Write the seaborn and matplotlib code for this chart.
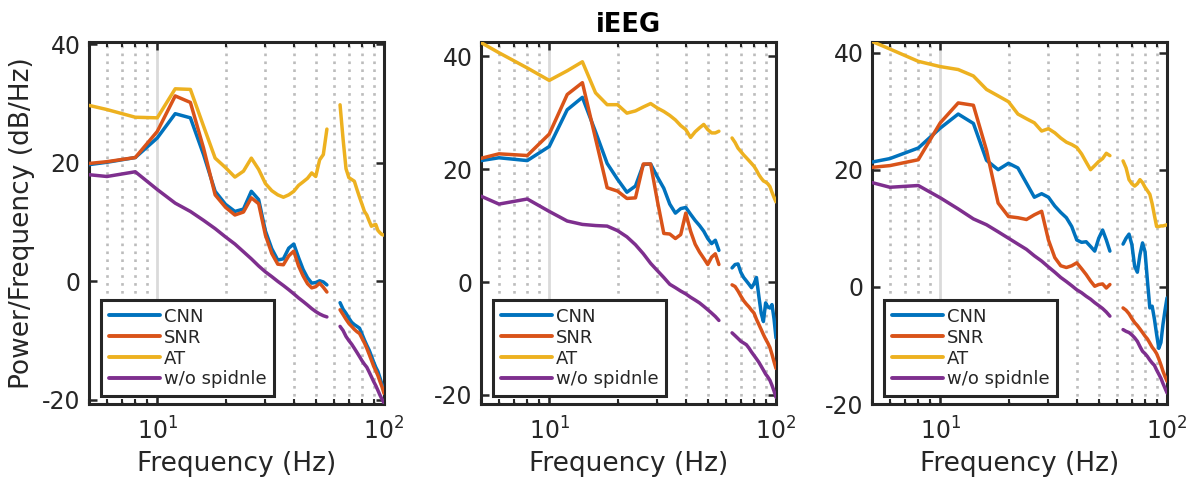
import numpy as np
import pandas as pd
import matplotlib
matplotlib.use("Agg")
import matplotlib.pyplot as plt
from matplotlib.ticker import LogFormatterMathtext, NullFormatter, FixedLocator
import seaborn as sns

# Frequency bins (Hz); the 58-62 Hz line-noise band is left out
FREQ_LO = [5, 6, 8, 10, 12, 14, 16, 18, 20, 22, 24, 26, 28, 30, 32, 34, 36, 38,
           40, 42, 44, 46, 48, 50, 52, 54, 56]
FREQ_HI = [64, 66, 68, 70, 72, 74, 76, 78, 80, 82, 84, 86, 88, 90, 92, 94, 96,
           98, 100]

METHODS = ["CNN", "SNR", "AT", "w/o spidnle"]
COLORS = ["#0072BD", "#D95319", "#EDB120", "#7E2F8E"]

# ---- Panel 1 (dB/Hz) ----
P1_CNN_LO = [19.7, 20.1, 20.9, 24.2, 28.3, 27.6, 21.4, 15.2, 13.0, 11.8, 12.2, 15.2, 13.8, 8.5,
             5.5, 3.6, 3.8, 5.6, 6.3, 4.0, 2.0, 0.6, -0.3, -0.2, 0.1, -0.1, -0.6]
P1_CNN_HI = [-3.6, -4.7, -5.4, -6.2, -6.9, -7.3, -7.6, -7.9, -8.9, -9.9, -10.8, -11.6, -12.6,
             -13.6, -14.5, -15.2, -16.3, -17.4, -18.3]
P1_SNR_LO = [19.9, 20.2, 20.9, 25.3, 31.3, 30.2, 22.5, 14.6, 12.5, 11.2, 11.7, 14.1, 13.1, 7.8,
             4.7, 2.9, 2.8, 4.3, 5.1, 2.6, 0.9, -0.4, -1.1, -0.9, -0.3, -1.0, -1.8]
P1_SNR_HI = [-4.8, -5.6, -6.4, -7.1, -7.6, -8.1, -8.5, -8.8, -9.6, -10.4, -11.3, -12.3, -13.3,
             -14.3, -15.1, -15.9, -16.9, -17.8, -18.9]
P1_AT_LO = [29.7, 29.0, 27.7, 27.6, 32.5, 32.4, 26.2, 20.8, 19.2, 17.6, 18.6, 20.8, 18.9, 16.5,
            15.3, 14.6, 14.2, 14.6, 15.2, 16.2, 16.8, 17.4, 18.3, 17.7, 20.5, 21.4, 25.7]
P1_AT_HI = [29.8, 24.0, 19.0, 17.5, 17.2, 16.9, 15.5, 14.2, 13.0, 11.8, 11.2, 10.2, 9.3, 9.5,
            9.6, 8.6, 8.2, 7.9, 7.8]
P1_WO_LO = [18.0, 17.7, 18.5, 15.5, 13.2, 11.8, 10.3, 8.9, 7.5, 6.3, 5.0, 3.8, 2.6, 1.6, 0.8,
            0.0, -0.7, -1.4, -2.1, -2.8, -3.4, -4.0, -4.6, -5.1, -5.5, -5.8, -6.0]
P1_WO_HI = [-7.6, -8.3, -9.3, -10.0, -10.6, -11.3, -12.0, -12.7, -13.4, -14.0, -14.5, -15.3,
            -16.1, -16.9, -17.6, -18.4, -19.2, -19.9, -20.5]

# ---- Panel 2 ----
P2_CNN_LO = [21.5, 22.0, 21.5, 24.0, 30.5, 32.7, 26.6, 21.0, 18.2, 15.9, 17.0, 20.8, 20.9, 18.6,
             16.6, 13.8, 12.2, 13.0, 13.2, 12.0, 10.9, 10.0, 9.0, 7.7, 6.8, 7.4, 5.6]
P2_CNN_HI = [2.5, 3.1, 3.2, 1.7, 0.8, 0.2, -0.4, -1.0, -0.3, 0.8, -2.5, -5.5, -7.0, -3.7, -4.4,
             -4.6, -4.0, -6.5, -9.9]
P2_SNR_LO = [21.9, 22.7, 22.4, 26.2, 33.2, 35.3, 25.4, 16.7, 16.1, 14.8, 14.9, 20.9, 20.9, 14.3,
             8.6, 8.5, 7.7, 8.4, 12.2, 9.0, 6.7, 5.3, 4.2, 3.1, 4.4, 5.0, 3.1]
P2_SNR_HI = [-0.5, -0.8, -1.6, -2.5, -3.3, -3.9, -4.4, -5.0, -5.5, -6.6, -7.5, -8.4, -9.3, -10.1,
             -10.8, -11.6, -12.8, -14.1, -15.3]
P2_AT_LO = [42.4, 40.6, 37.9, 35.7, 37.4, 39.0, 33.5, 31.4, 31.4, 29.9, 30.3, 31.0, 31.6, 30.8,
            30.2, 29.5, 28.7, 27.7, 27.0, 25.6, 26.6, 27.3, 27.9, 27.0, 26.4, 26.4, 26.7]
P2_AT_HI = [25.5, 24.7, 23.7, 23.1, 22.5, 22.0, 21.5, 21.0, 20.5, 19.8, 19.0, 18.4, 17.9, 17.7,
            17.4, 16.9, 15.9, 15.0, 14.2]
P2_WO_LO = [15.2, 13.8, 14.7, 12.5, 10.8, 10.2, 10.0, 9.9, 9.1, 8.0, 6.6, 5.0, 3.3, 2.0, 0.8,
            -0.4, -1.0, -1.6, -2.1, -2.7, -3.2, -3.7, -4.3, -4.9, -5.5, -6.1, -6.8]
P2_WO_HI = [-9.0, -9.5, -10.0, -10.5, -10.8, -11.1, -11.7, -12.4, -13.0, -13.6, -14.2, -14.9,
            -15.6, -16.3, -16.8, -17.4, -18.3, -19.3, -20.4]

# ---- Panel 3 ----
P3_CNN_LO = [21.3, 21.9, 23.7, 27.1, 29.5, 27.9, 21.6, 20.0, 21.1, 20.3, 17.7, 15.3, 15.9, 15.3,
             13.8, 12.7, 11.8, 10.3, 8.0, 7.6, 7.7, 6.9, 6.1, 8.3, 9.7, 8.0, 6.1]
P3_CNN_HI = [7.3, 8.3, 9.0, 7.2, 3.5, 2.5, 5.5, 7.5, 6.0, 1.0, -3.6, -3.3, -5.5, -8.1, -10.5,
             -9.5, -6.4, -4.0, -1.9]
P3_SNR_LO = [20.4, 20.7, 21.7, 28.0, 31.4, 31.0, 23.3, 14.3, 12.0, 11.8, 11.5, 12.3, 12.9, 8.0,
             5.0, 3.6, 3.3, 3.6, 4.1, 3.1, 2.1, 1.0, 0.1, 0.4, 0.5, -0.2, 0.4]
P3_SNR_HI = [-3.6, -4.0, -4.6, -5.4, -6.1, -6.6, -7.2, -7.8, -8.4, -8.9, -9.6, -10.3, -10.8,
             -11.4, -12.3, -13.3, -14.4, -15.3, -16.1]
P3_AT_LO = [41.9, 40.6, 38.5, 37.6, 37.1, 36.0, 33.7, 32.6, 31.6, 29.5, 28.7, 28.0, 26.6, 27.0,
            26.3, 25.4, 24.7, 24.3, 23.8, 22.7, 21.3, 20.0, 20.7, 21.4, 21.9, 22.8, 22.4]
P3_AT_HI = [21.5, 20.3, 18.3, 17.6, 17.2, 17.6, 18.3, 17.8, 17.0, 16.4, 15.8, 14.2, 12.2, 10.3,
            10.3, 10.4, 10.4, 10.5, 10.6]
P3_WO_LO = [17.8, 17.0, 17.3, 15.2, 13.3, 11.6, 10.6, 9.4, 8.3, 7.3, 6.4, 5.3, 4.4, 3.4, 2.5,
            1.6, 0.9, 0.2, -0.5, -1.0, -1.6, -2.1, -2.7, -3.2, -3.7, -4.3, -5.0]
P3_WO_HI = [-7.3, -7.6, -7.8, -8.2, -8.7, -9.3, -10.2, -11.0, -11.4, -11.9, -12.5, -13.0, -13.4,
            -14.2, -14.9, -15.6, -16.5, -17.3, -18.1]

PANELS = [
    [(P1_CNN_LO, P1_CNN_HI), (P1_SNR_LO, P1_SNR_HI), (P1_AT_LO, P1_AT_HI), (P1_WO_LO, P1_WO_HI)],
    [(P2_CNN_LO, P2_CNN_HI), (P2_SNR_LO, P2_SNR_HI), (P2_AT_LO, P2_AT_HI), (P2_WO_LO, P2_WO_HI)],
    [(P3_CNN_LO, P3_CNN_HI), (P3_SNR_LO, P3_SNR_HI), (P3_AT_LO, P3_AT_HI), (P3_WO_LO, P3_WO_HI)],
]
YLIMS = [(-20.7, 40.4), (-21.6, 42.5), (-20.0, 41.8)]
Y_TICKS = [-20, 0, 20, 40]

sns.set_theme(style="white")
plt.rcParams["font.family"] = ["DejaVu Sans"]
plt.rcParams["axes.unicode_minus"] = False
plt.rcParams["mathtext.fontset"] = "dejavusans"

INK = "#262626"
fig = plt.figure(figsize=(11.89, 4.80), dpi=100)
lefts = [89, 481, 872]
W, H = 1189, 480


def long_frame(series):
    rows = []
    for name, (lo, hi) in zip(METHODS, series):
        for f, v in zip(FREQ_LO, lo):
            rows.append((f, v, name, "lo"))
        for f, v in zip(FREQ_HI, hi):
            rows.append((f, v, name, "hi"))
    return pd.DataFrame(rows, columns=["freq", "power", "method", "band"])


for i, series in enumerate(PANELS):
    ax = fig.add_axes([lefts[i] / W, (H - 404) / H, 295 / W, 362 / H])
    df = long_frame(series)
    sns.lineplot(data=df, x="freq", y="power", hue="method", units="band",
                 estimator=None, hue_order=METHODS, palette=COLORS,
                 linewidth=2.5, ax=ax, legend=True, sort=True, zorder=3)
    ax.set_xscale("log")
    ax.set_xlim(5, 100)
    ax.set_ylim(*YLIMS[i])
    ax.set_yticks(Y_TICKS)
    ax.xaxis.set_major_locator(FixedLocator([10, 100]))
    ax.xaxis.set_major_formatter(LogFormatterMathtext())
    ax.xaxis.set_minor_locator(FixedLocator([5, 6, 7, 8, 9, 20, 30, 40, 50, 60, 70, 80, 90]))
    ax.xaxis.set_minor_formatter(NullFormatter())

    # vertical grid: dotted on minor positions, solid at the decade
    ax.grid(False)
    ax.xaxis.grid(True, which="minor", color="#bcbcbc", linestyle=(0, (1, 2.0)), linewidth=1.9)
    ax.xaxis.grid(True, which="major", color="#dadada", linestyle="-", linewidth=2.0)
    ax.set_axisbelow(True)

    for sp in ax.spines.values():
        sp.set_color(INK)
        sp.set_linewidth(2.2)
        sp.set_visible(True)
    ax.tick_params(axis="both", which="major", direction="in", length=6, width=1.8,
                   colors=INK, labelsize=17, top=True, right=True, bottom=True, left=True)
    ax.tick_params(axis="x", which="minor", direction="in", length=3.5, width=1.5,
                   colors=INK, top=True, bottom=True)
    ax.tick_params(axis="x", which="major", pad=10)
    ax.tick_params(axis="y", which="major", pad=6)
    ax.set_xlabel("Frequency (Hz)", fontsize=19, color=INK, labelpad=4)
    if i == 0:
        ax.set_ylabel("Power/Frequency (dB/Hz)", fontsize=19, color=INK, labelpad=5)
    else:
        ax.set_ylabel("")
    if i == 1:
        ax.set_title("iEEG", fontsize=18.5, fontweight="bold", color="black", pad=7)

    handles, labels = ax.get_legend_handles_labels()
    leg = ax.legend(handles, labels, loc="lower left", bbox_to_anchor=(0.041, 0.022),
                    borderaxespad=0, fontsize=13, frameon=True, fancybox=False,
                    framealpha=1, edgecolor=INK, handlelength=2.85, handletextpad=0.2,
                    labelspacing=0.16, borderpad=0.42)
    leg.get_frame().set_linewidth(2.2)
    for ln in leg.get_lines():
        ln.set_linewidth(2.8)
    for t in leg.get_texts():
        t.set_color(INK)

fig.savefig("out.png", dpi=100, facecolor="white")
